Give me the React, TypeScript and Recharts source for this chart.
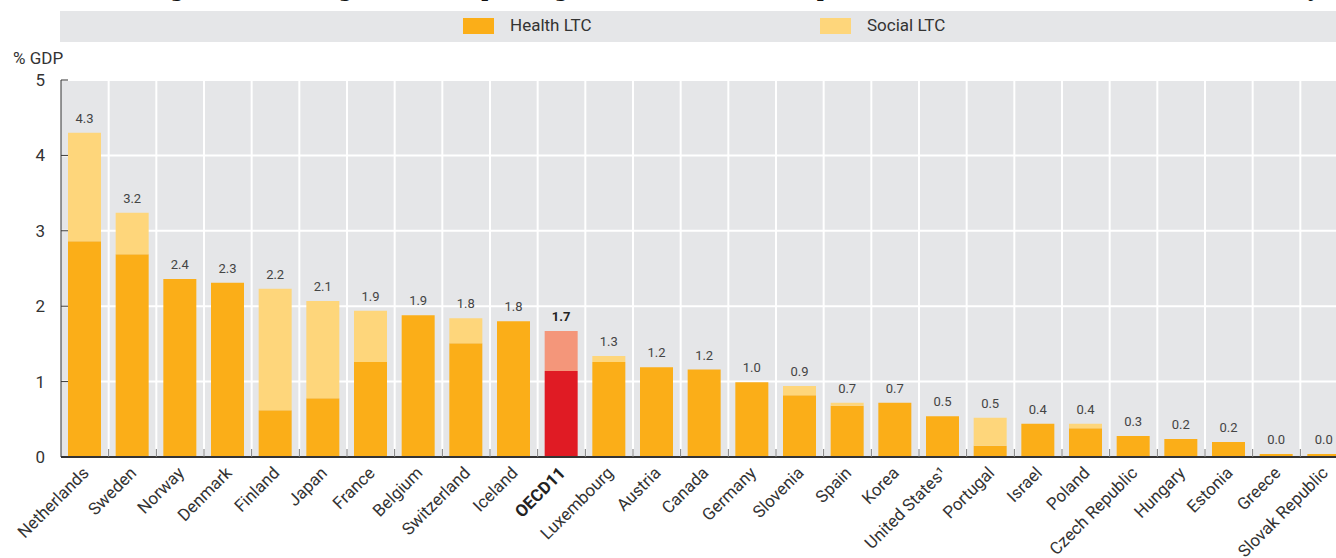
import { Bar, BarChart, CartesianGrid, Cell, LabelList, XAxis, YAxis } from 'recharts';

const countries = [
  'Netherlands', 'Sweden', 'Norway', 'Denmark', 'Finland', 'Japan', 'France', 'Belgium',
  'Switzerland', 'Iceland', 'OECD11', 'Luxembourg', 'Austria', 'Canada', 'Germany', 'Slovenia',
  'Spain', 'Korea', 'United States¹', 'Portugal', 'Israel', 'Poland', 'Czech Republic',
  'Hungary', 'Estonia', 'Greece', 'Slovak Republic',
];
const healthLtc = [
  2.86, 2.69, 2.36, 2.31, 0.62, 0.78, 1.26, 1.88, 1.51, 1.8, 1.14, 1.26, 1.19, 1.16, 0.99, 0.82,
  0.68, 0.72, 0.54, 0.15, 0.44, 0.38, 0.28, 0.24, 0.2, 0.04, 0.04,
];
const socialLtc = [
  1.44, 0.55, 0, 0, 1.61, 1.29, 0.68, 0, 0.33, 0, 0.53, 0.08, 0, 0, 0, 0.12,
  0.04, 0, 0, 0.37, 0, 0.06, 0, 0, 0, 0, 0,
];
const yTicks = [0, 1, 2, 3, 4, 5];
const highlight = 'OECD11';

const data = countries.map((name, i) => ({
  name,
  health: healthLtc[i],
  social: socialLtc[i],
  total: (healthLtc[i] + socialLtc[i]).toFixed(1),
}));

const FONT = 'Roboto, "Liberation Sans", sans-serif';
const HEALTH = '#fbae18';
const SOCIAL = '#fed67b';
const HEALTH_HI = '#e01b24';
const SOCIAL_HI = '#f4967a';
const CHART_W = 1350;
const PLOT_LEFT = 61;
const PLOT_RIGHT = 2;
const band = (CHART_W - PLOT_LEFT - PLOT_RIGHT) / countries.length;

const XTick = (props: any) => {
  const { x, y, payload } = props;
  const bold = payload.value === highlight;
  return (
    <g>
      <line x1={x + band / 2} x2={x + band / 2} y1={y - 8} y2={y} stroke="#777" strokeWidth={1} />
      <text
        x={x + 5}
        y={y + 17}
        transform={`rotate(-45 ${x + 5} ${y + 17})`}
        textAnchor="end"
        fontSize={17}
        fontFamily={FONT}
        fontWeight={bold ? 700 : 400}
        fill={bold ? '#222' : '#333'}
      >
        {payload.value}
      </text>
    </g>
  );
};

const YTick = (props: any) => {
  const { x, y, payload } = props;
  return (
    <g>
      <line x1={x} x2={x + 7} y1={y} y2={y} stroke="#333" strokeWidth={1} />
      <text x={x - 16} y={y + 6} textAnchor="end" fontSize={17} fontFamily={FONT} fill="#333">
        {payload.value}
      </text>
    </g>
  );
};

// label sits on top of the whole stack: lift it by the social part, using the bar's own px/unit
const TotalLabel = (props: any) => {
  const { x, y, width, height, value, index } = props;
  const d = data[index];
  const top = y - (height / d.health) * d.social;
  const bold = d.name === highlight;
  return (
    <text
      x={x + width / 2}
      y={top - 10}
      textAnchor="middle"
      fontSize={13}
      fontFamily={FONT}
      fontWeight={bold ? 700 : 400}
      fill={bold ? '#222' : '#444'}
    >
      {value}
    </text>
  );
};

export default function App() {
  return (
    <div
      style={{
        position: 'fixed',
        left: 0,
        top: 0,
        width: 1336,
        height: 558,
        overflow: 'hidden',
        background: '#fff',
        fontFamily: FONT,
      }}
    >
      {/* title, cut off at the top edge */}
      <div
        style={{
          position: 'absolute',
          left: 150,
          top: -20,
          whiteSpace: 'nowrap',
          fontFamily: '"DejaVu Serif", serif',
          fontWeight: 700,
          fontSize: 19,
          lineHeight: '20px',
          color: '#111',
        }}
      >
        Figure 11.27. Long-term care spending (health and social components), as a share of GDP, 2017 (or nearest year)
      </div>
      {/* legend band */}
      <div style={{ position: 'absolute', left: 60, top: 11, width: 1276, height: 31, background: '#e5e6e8' }}>
        <div style={{ position: 'absolute', left: 403, top: 7, width: 31, height: 16, background: HEALTH }} />
        <div style={{ position: 'absolute', left: 450, top: 4, fontSize: 17, color: '#333' }}>Health LTC</div>
        <div style={{ position: 'absolute', left: 760, top: 7, width: 31, height: 16, background: SOCIAL }} />
        <div style={{ position: 'absolute', left: 807, top: 4, fontSize: 17, color: '#333' }}>Social LTC</div>
      </div>
      <div style={{ position: 'absolute', left: 13, top: 48, fontSize: 17, color: '#333' }}>% GDP</div>
      <div style={{ position: 'absolute', left: 0, top: 0 }}>
        <BarChart
          width={CHART_W}
          height={558}
          data={data}
          margin={{ top: 80, right: PLOT_RIGHT, bottom: 0, left: 0 }}
        >
          <CartesianGrid
            fill="#e5e6e8"
            stroke="#fff"
            strokeWidth={2}
            verticalCoordinatesGenerator={({ offset }: any) =>
              countries.map((_, i) => offset.left + (i + 1) * (offset.width / countries.length))
            }
          />
          <XAxis
            dataKey="name"
            interval={0}
            height={101}
            tickSize={0}
            tickMargin={0}
            tick={<XTick />}
            axisLine={{ stroke: '#333', strokeWidth: 2 }}
          />
          <YAxis
            width={PLOT_LEFT}
            domain={[0, 5]}
            ticks={yTicks}
            interval={0}
            tickSize={0}
            tickMargin={0}
            tick={<YTick />}
            axisLine={{ stroke: '#333', strokeWidth: 1 }}
          />
          <Bar dataKey="health" stackId="ltc" barSize={33} isAnimationActive={false}>
            {data.map((d) => (
              <Cell key={d.name} fill={d.name === highlight ? HEALTH_HI : HEALTH} />
            ))}
            <LabelList dataKey="total" content={<TotalLabel />} />
          </Bar>
          <Bar dataKey="social" stackId="ltc" barSize={33} isAnimationActive={false}>
            {data.map((d) => (
              <Cell key={d.name} fill={d.name === highlight ? SOCIAL_HI : SOCIAL} />
            ))}
          </Bar>
        </BarChart>
      </div>
    </div>
  );
}
